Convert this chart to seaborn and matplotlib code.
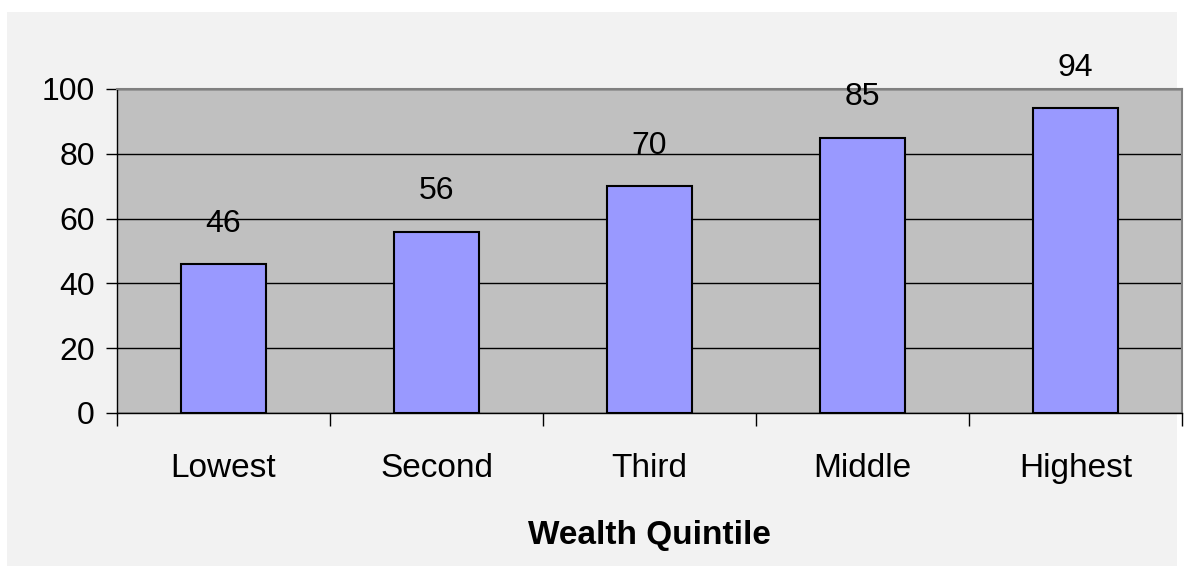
import matplotlib
matplotlib.use("Agg")
import matplotlib.pyplot as plt
import matplotlib.patches as mpatches
import seaborn as sns
import pandas as pd

quintiles = ["Lowest", "Second", "Third", "Middle", "Highest"]
values = [46, 56, 70, 85, 94]
y_ticks = [0, 20, 40, 60, 80, 100]

df = pd.DataFrame({"Quintile": quintiles, "Value": values})

sns.set_style("white")
plt.rcParams["font.family"] = ["Liberation Sans", "DejaVu Sans"]
plt.rcParams["text.color"] = "black"
plt.rcParams["xtick.color"] = "black"
plt.rcParams["ytick.color"] = "black"
plt.rcParams["axes.labelcolor"] = "black"

fig = plt.figure(figsize=(11.84, 5.77), dpi=100, facecolor="white")
fig.patches.append(mpatches.Rectangle((7 / 1184, 1 - 566 / 577), 1170 / 1184, 554 / 577,
                                      transform=fig.transFigure, facecolor="#f2f2f2",
                                      edgecolor="none", zorder=-10))
ax = fig.add_axes([117 / 1184, 1 - 413 / 577, 1065 / 1184, 324 / 577])
ax.set_zorder(1)
ax.set_facecolor("#c0c0c0")

sns.barplot(data=df, x="Quintile", y="Value", color="#9999ff", edgecolor="black",
            linewidth=1.5, width=0.4, saturation=1, ax=ax, zorder=3)

ax.set_ylim(0, 100)
ax.set_xlim(-0.5, len(quintiles) - 0.5)
ax.set_yticks(y_ticks)
ax.tick_params(axis="y", left=True, labelsize=23, direction="out", length=8, width=1,
               color="black", labelcolor="black", pad=8)
ax.yaxis.grid(True, color="black", linewidth=1)
ax.set_axisbelow(True)

# category ticks between bars, labels in the middle
ax.set_xticks([i - 0.5 for i in range(len(quintiles) + 1)])
ax.set_xticklabels([])
ax.set_xticks(range(len(quintiles)), minor=True)
ax.set_xticklabels(quintiles, minor=True)
ax.tick_params(axis="x", which="major", bottom=True, direction="out", length=9, width=1,
               color="black")
ax.tick_params(axis="x", which="minor", bottom=True, length=0, labelsize=24, pad=29,
               labelcolor="black")

for s in ["top", "right"]:
    ax.spines[s].set_color("#808080")
    ax.spines[s].set_linewidth(1.5)
for s in ["left", "bottom"]:
    ax.spines[s].set_color("black")
    ax.spines[s].set_linewidth(1)

for i, v in enumerate(values):
    ax.annotate(str(v), (i, v), xytext=(0, 29), textcoords="offset points",
                ha="center", va="center", fontsize=23, color="black", annotation_clip=False)

ax.set_xlabel("Wealth Quintile", fontsize=24, fontweight="bold", labelpad=26, color="black")
ax.set_ylabel("")

fig.savefig("out.png", dpi=100, facecolor=fig.get_facecolor())
